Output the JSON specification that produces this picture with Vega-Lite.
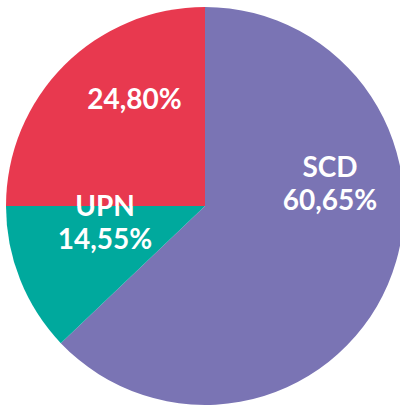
{
  "$schema": "https://vega.github.io/schema/vega-lite/v6.json",
  "width": 400,
  "height": 400,
  "autosize": {"type": "none"},
  "padding": {"left": 5, "top": 6, "right": 0, "bottom": 0},
  "background": "white",
  "view": {"stroke": null},
  "data": {
    "values": [
      {"partido": "SCD", "valor": 62.9, "orden": 1, "etiqueta": "SCD\n60,65%"},
      {"partido": "UPN", "valor": 12.1, "orden": 2, "etiqueta": "UPN\n14,55%"},
      {"partido": "Otros", "valor": 25.0, "orden": 3, "etiqueta": "24,80%"}
    ]
  },
  "layer": [
    {
      "mark": {"type": "arc", "outerRadius": 199, "stroke": null},
      "encoding": {
        "theta": {"field": "valor", "type": "quantitative", "stack": true},
        "order": {"field": "orden", "type": "quantitative"},
        "color": {
          "field": "partido",
          "type": "nominal",
          "scale": {"domain": ["SCD", "UPN", "Otros"], "range": ["#7A74B4", "#00A99D", "#E8394F"]},
          "legend": null
        }
      }
    },
    {
      "transform": [{"filter": "datum.partido == 'SCD'"}],
      "mark": {"type": "text", "theta": 1.283, "radius": 130.4, "font": "Lato", "fontWeight": "bold", "fontSize": 28, "lineHeight": 33.5, "lineBreak": "\n", "color": "white", "align": "center", "baseline": "middle"},
      "encoding": {"text": {"field": "etiqueta", "type": "nominal"}}
    },
    {
      "transform": [{"filter": "datum.partido == 'UPN'"}],
      "mark": {"type": "text", "theta": 4.693, "radius": 100, "font": "Lato", "fontWeight": "bold", "fontSize": 28, "lineHeight": 33.5, "lineBreak": "\n", "color": "white", "align": "center", "baseline": "middle"},
      "encoding": {"text": {"field": "etiqueta", "type": "nominal"}}
    },
    {
      "transform": [{"filter": "datum.partido == 'Otros'"}],
      "mark": {"type": "text", "theta": 5.692, "radius": 126.5, "font": "Lato", "fontWeight": "bold", "fontSize": 28, "lineHeight": 33.5, "lineBreak": "\n", "color": "white", "align": "center", "baseline": "middle"},
      "encoding": {"text": {"field": "etiqueta", "type": "nominal"}}
    }
  ]
}
